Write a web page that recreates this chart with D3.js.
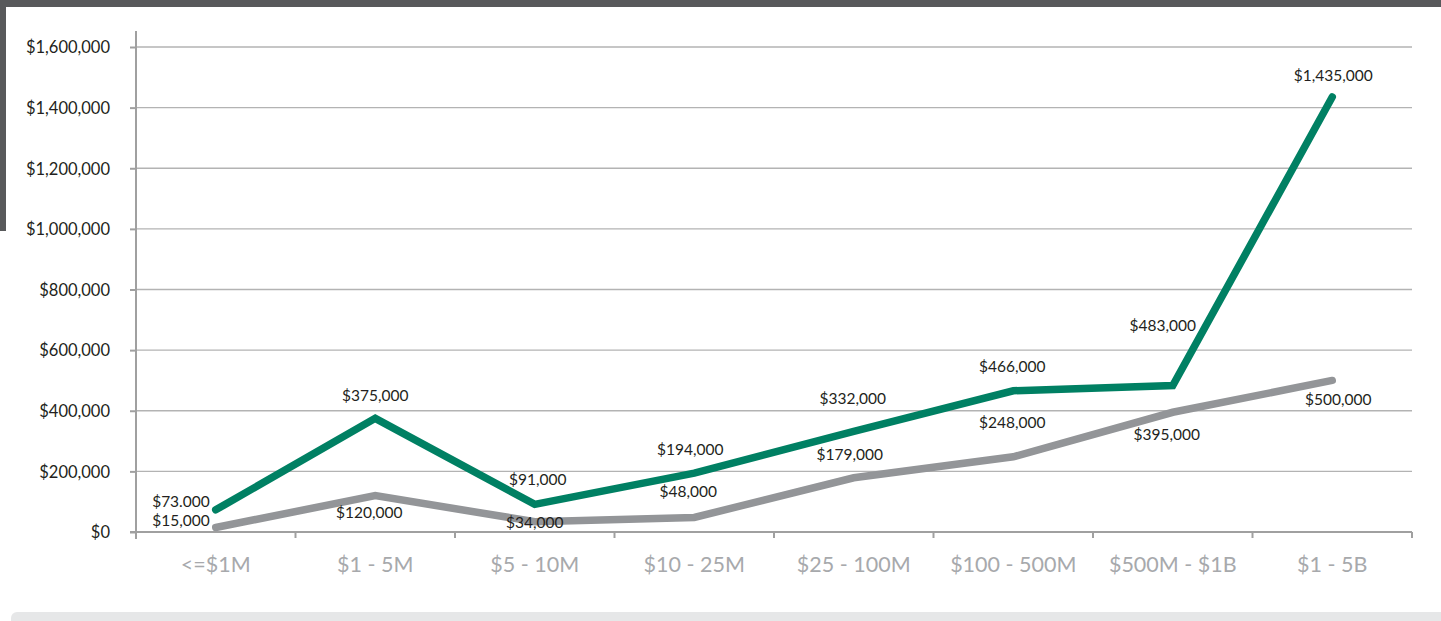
<!DOCTYPE html>
<html>
<head>
<meta charset="utf-8">
<script src="https://cdn.jsdelivr.net/npm/d3@7"></script>
<style>
  html, body { margin: 0; padding: 0; background: #fff; }
  svg { display: block; }
</style>
</head>
<body>
<svg id="chart" width="1441" height="621"></svg>
<script>
// ---- data ----
const categories = ["<=$1M", "$1 - 5M", "$5 - 10M", "$10 - 25M", "$25 - 100M", "$100 - 500M", "$500M - $1B", "$1 - 5B"];
const greenValues = [73000, 375000, 91000, 194000, 332000, 466000, 483000, 1435000];
const grayValues  = [15000, 120000, 34000, 48000, 179000, 248000, 395000, 500000];
const greenLabels = ["$73.000", "$375,000", "$91,000", "$194,000", "$332,000", "$466,000", "$483,000", "$1,435,000"];
const grayLabels  = ["$15,000", "$120,000", "$34,000", "$48,000", "$179,000", "$248,000", "$395,000", "$500,000"];
const yTicks = [0, 200000, 400000, 600000, 800000, 1000000, 1200000, 1400000, 1600000];

// ---- label placement (layout only) ----
const greenLabelOffset = [[-6, -3, "end"], [0, -17, "middle"], [3, -19, "middle"], [-4, -18, "middle"], [-1, -27, "middle"], [-1, -19, "middle"], [-10, -55, "middle"], [1, -16, "middle"]];
const grayLabelOffset  = [[-6, -1, "end"], [-6, 22, "middle"], [0, 6, "middle"], [-6, -20, "middle"], [-4, -18, "middle"], [-1, -29, "middle"], [-6, 28, "middle"], [6, 25, "middle"]];

const svg = d3.select("#chart");
const mLeft = 136, mRight = 1412, mTop = 47, mBottom = 532;

const x = d3.scaleBand().domain(categories).range([mLeft, mRight]).paddingInner(0).paddingOuter(0);
const y = d3.scaleLinear().domain([0, 1600000]).range([mBottom, mTop]);
const fmt = d3.format("$,");

// frame decorations
svg.append("rect").attr("x", 0).attr("y", 0).attr("width", 1441).attr("height", 7).attr("fill", "#58595b");
svg.append("rect").attr("x", 0).attr("y", 0).attr("width", 6).attr("height", 231).attr("fill", "#58595b");
svg.append("rect").attr("x", 11).attr("y", 612).attr("width", 1445).attr("height", 20).attr("rx", 6).attr("fill", "#e6e7e8");

// gridlines
svg.append("g").selectAll("line").data(yTicks.filter(d => d > 0)).join("line")
  .attr("x1", mLeft).attr("x2", mRight)
  .attr("y1", d => y(d)).attr("y2", d => y(d))
  .attr("stroke", "#b3b3b3").attr("stroke-width", 1.3);

// y axis
const yAxis = svg.append("g").attr("transform", `translate(${mLeft},0)`)
  .call(d3.axisLeft(y).tickValues(yTicks).tickFormat(fmt).tickSize(6).tickPadding(20));
yAxis.select(".domain").remove();
yAxis.selectAll(".tick line").attr("stroke", "#a0a0a0").attr("stroke-width", 2);
yAxis.selectAll(".tick text").attr("font-family", "Lato, sans-serif").attr("font-size", 16.5).attr("fill", "#231f20").attr("dy", "0.35em");
svg.append("line").attr("x1", mLeft).attr("x2", mLeft).attr("y1", 31).attr("y2", 539)
  .attr("stroke", "#a0a0a0").attr("stroke-width", 2);

// x axis
const xAxis = svg.append("g").attr("transform", `translate(0,${mBottom})`)
  .call(d3.axisBottom(x).tickSize(0).tickPadding(25));
xAxis.select(".domain").remove();
xAxis.selectAll(".tick text").attr("font-family", "Lato, sans-serif").attr("font-size", 21.5).attr("fill", "#a7a9ac");
svg.append("line").attr("x1", 130).attr("x2", mRight).attr("y1", mBottom).attr("y2", mBottom)
  .attr("stroke", "#a0a0a0").attr("stroke-width", 2);
const boundaries = categories.map(c => x(c) + x.bandwidth());
svg.append("g").selectAll("line").data(boundaries).join("line")
  .attr("x1", d => d).attr("x2", d => d).attr("y1", mBottom).attr("y2", mBottom + 6)
  .attr("stroke", "#a0a0a0").attr("stroke-width", 2);

// lines
const cx = (d, i) => x(categories[i]) + x.bandwidth() / 2;
const line = d3.line().x(cx).y(d => y(d));
svg.append("path").datum(grayValues).attr("d", line)
  .attr("fill", "none").attr("stroke", "#939598").attr("stroke-width", 7.5)
  .attr("stroke-linecap", "round").attr("stroke-linejoin", "miter");
svg.append("path").datum(greenValues).attr("d", line)
  .attr("fill", "none").attr("stroke", "#008063").attr("stroke-width", 7.5)
  .attr("stroke-linecap", "round").attr("stroke-linejoin", "miter");

// labels
function addLabels(values, labels, offsets) {
  svg.append("g").selectAll("text").data(values).join("text")
    .attr("x", (d, i) => cx(d, i) + offsets[i][0])
    .attr("y", (d, i) => y(d) + offsets[i][1])
    .attr("text-anchor", (d, i) => offsets[i][2])
    .attr("font-family", "Lato, sans-serif").attr("font-size", 15.5).attr("fill", "#231f20")
    .text((d, i) => labels[i]);
}
addLabels(greenValues, greenLabels, greenLabelOffset);
addLabels(grayValues, grayLabels, grayLabelOffset);

// white mask clipping the left edge of some tick labels (as in the original)
svg.append("rect").attr("x", 0).attr("y", 236).attr("width", 39).attr("height", 248).attr("fill", "#fff");
</script>
</body>
</html>
